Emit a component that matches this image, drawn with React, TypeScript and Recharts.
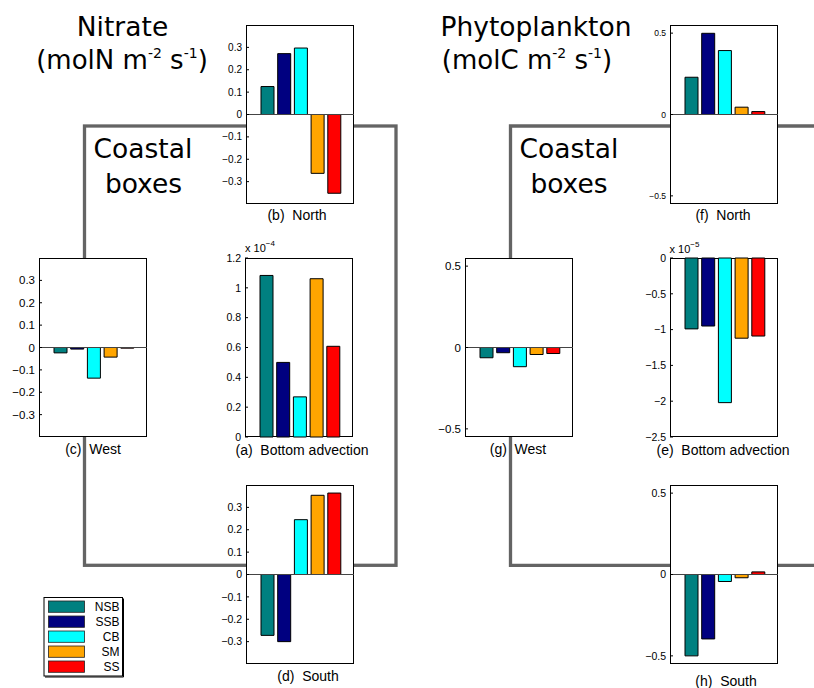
import React from 'react';
import { BarChart, Bar, XAxis, YAxis, Cell, ReferenceLine } from 'recharts';

// ---------- data ----------
const categories = ['NSB', 'SSB', 'CB', 'SM', 'SS'];
const colors = ['#008080', '#000080', '#00FFFF', '#FFA500', '#FF0000'];

const nitrateNorth = [0.125, 0.272, 0.297, -0.263, -0.352];
const nitrateWest = [-0.024, -0.007, -0.137, -0.043, -0.003];
const nitrateBottom = [1.083, 0.5, 0.269, 1.061, 0.608]; // x 10^-4
const nitrateSouth = [-0.272, -0.3, 0.245, 0.354, 0.364];

const phytoNorth = [0.229, 0.499, 0.393, 0.045, 0.018];
const phytoWest = [-0.063, -0.032, -0.118, -0.043, -0.037];
const phytoBottom = [-0.99, -0.95, -2.02, -1.12, -1.09]; // x 10^-5
const phytoSouth = [-0.5, -0.396, -0.043, -0.02, 0.016];

const nitrateTicks = [-0.3, -0.2, -0.1, 0, 0.1, 0.2, 0.3];
const nitrateBottomTicks = [0, 0.2, 0.4, 0.6, 0.8, 1, 1.2];
const phytoTicks = [-0.5, 0, 0.5];
const phytoBottomTicks = [-2.5, -2, -1.5, -1, -0.5, 0];

// ---------- helpers ----------
const fmt = (v: number) => (v < 0 ? '\u2212' + String(Math.abs(v)) : String(v));
const SANS = 'Liberation Sans, Arial, Helvetica, sans-serif';
const DEJAVU = 'DejaVu Sans, Verdana, sans-serif';

type PanelProps = {
  x0: number;
  y0: number;
  data: number[];
  domain: [number, number];
  ticks: number[];
  fontSize: number;
  baseline: boolean;
};

const W = 108;
const H = 179;
const LW = 50;
const RW = 10;
const PAD = 10;

function Panel({ x0, y0, data, domain, ticks, fontSize, baseline }: PanelProps) {
  const rows = data.map((v, i) => ({ name: categories[i], value: v }));
  return (
    <>
      <div
        style={{
          position: 'absolute',
          left: x0,
          top: y0,
          width: W,
          height: H,
          background: '#fff',
          border: '1px solid #000',
          boxSizing: 'border-box',
        }}
      />
      <div style={{ position: 'absolute', left: x0 - LW, top: y0 - PAD }}>
        <BarChart
          width={W + LW + RW}
          height={H + 2 * PAD}
          data={rows}
          margin={{ top: PAD, bottom: PAD, left: 0, right: 0 }}
          barSize={13}
        >
          <XAxis dataKey="name" hide padding={{ left: 13, right: 11.5 }} />
          <YAxis
            yAxisId="l"
            type="number"
            width={LW}
            domain={domain}
            ticks={ticks}
            interval={0}
            axisLine={false}
            tickLine={{ stroke: '#000' }}
            tickSize={-3}
            tickMargin={7}
            tick={{ fontSize, fill: '#000', fontFamily: SANS }}
            tickFormatter={fmt}
          />
          <YAxis
            yAxisId="r"
            orientation="right"
            type="number"
            width={RW}
            domain={domain}
            ticks={ticks}
            interval={0}
            axisLine={false}
            tickLine={{ stroke: '#000' }}
            tickSize={-3}
            tickFormatter={() => ''}
          />
          {baseline && <ReferenceLine yAxisId="l" y={0} stroke="#444" strokeWidth={1} />}
          <Bar yAxisId="l" dataKey="value" isAnimationActive={false} stroke="#000" strokeWidth={1}>
            {rows.map((r, i) => (
              <Cell key={r.name} fill={colors[i]} />
            ))}
          </Bar>
        </BarChart>
      </div>
    </>
  );
}

function UnitTitle({ x, y, species }: { x: number; y: number; species: string }) {
  return (
    <text x={x} y={y} textAnchor="middle" fontFamily={DEJAVU} fontSize={26} fill="#000">
      <tspan>{`(mol${species} m`}</tspan>
      <tspan fontSize={14} dy={-11}>-2</tspan>
      <tspan dy={11}> s</tspan>
      <tspan fontSize={14} dy={-11}>-1</tspan>
      <tspan dy={11}>)</tspan>
    </text>
  );
}

function Caption({ x, y, text }: { x: number; y: number; text: string }) {
  return (
    <text x={x} y={y} textAnchor="middle" fontFamily={SANS} fontSize={14} fill="#000" style={{ whiteSpace: 'pre' }}>
      {text}
    </text>
  );
}

function Exponent({ x, y, exp }: { x: number; y: number; exp: string }) {
  return (
    <text x={x} y={y} fontFamily={SANS} fontSize={11} fill="#000">
      <tspan>x 10</tspan>
      <tspan fontSize={8} dy={-6}>{exp}</tspan>
    </text>
  );
}

export default function App() {
  return (
    <div
      style={{
        position: 'absolute',
        left: 0,
        top: 0,
        width: 814,
        height: 688,
        background: '#fff',
        overflow: 'hidden',
      }}
    >
      <svg width={814} height={688} style={{ position: 'absolute', left: 0, top: 0 }}>
        {/* coastal box outlines */}
        <rect x={84.5} y={126} width={311.5} height={439.3} fill="none" stroke="#646464" strokeWidth={3.3} />
        <path d="M 830 126 H 510.5 V 565.3 H 830" fill="none" stroke="#646464" strokeWidth={3.3} />

        {/* titles */}
        <text x={122.5} y={36} textAnchor="middle" fontFamily={DEJAVU} fontSize={26.5} fill="#000">
          Nitrate
        </text>
        <UnitTitle x={122} y={69} species="N" />
        <text x={143} y={158} textAnchor="middle" fontFamily={DEJAVU} fontSize={26.5} fill="#000">
          Coastal
        </text>
        <text x={143.5} y={192.5} textAnchor="middle" fontFamily={DEJAVU} fontSize={26.5} fill="#000">
          boxes
        </text>

        <text x={536} y={35.5} textAnchor="middle" fontFamily={DEJAVU} fontSize={26.5} fill="#000">
          Phytoplankton
        </text>
        <UnitTitle x={527} y={68.5} species="C" />
        <text x={569} y={158} textAnchor="middle" fontFamily={DEJAVU} fontSize={26.5} fill="#000">
          Coastal
        </text>
        <text x={569} y={192.5} textAnchor="middle" fontFamily={DEJAVU} fontSize={26.5} fill="#000">
          boxes
        </text>

        {/* panel captions */}
        <Caption x={297} y={220} text="(b)  North" />
        <Caption x={93} y={453.5} text="(c)  West" />
        <Caption x={302} y={454.5} text="(a)  Bottom advection" />
        <Caption x={308} y={680.5} text="(d)  South" />
        <Caption x={723} y={220} text="(f)  North" />
        <Caption x={518} y={453.5} text="(g)  West" />
        <Caption x={723} y={454.5} text="(e)  Bottom advection" />
        <Caption x={726} y={685.5} text="(h)  South" />

        <Exponent x={245} y={252} exp={'\u22124'} />
        <Exponent x={669.5} y={252.5} exp={'\u22125'} />

        {/* legend */}
        <rect x={44} y={597.5} width={78.5} height={78.5} fill="#fff" stroke="#000" strokeWidth={1} />
        <path d="M 123.5 598.5 V 677 H 45" fill="none" stroke="#000" strokeWidth={1} />
        {categories.map((c, i) => (
          <g key={c}>
            <rect x={48.5} y={601 + i * 15} width={36} height={11.3} fill={colors[i]} stroke="#222" strokeWidth={0.8} />
            <text x={119.5} y={610.7 + i * 15} textAnchor="end" fontFamily={SANS} fontSize={12} fill="#000">
              {c}
            </text>
          </g>
        ))}
      </svg>

      <Panel x0={245.5} y0={24.5} data={nitrateNorth} domain={[-0.4, 0.4]} ticks={nitrateTicks} fontSize={10} baseline />
      <Panel x0={38.5} y0={257.5} data={nitrateWest} domain={[-0.4, 0.4]} ticks={nitrateTicks} fontSize={11.5} baseline />
      <Panel x0={245} y0={257.5} data={nitrateBottom} domain={[0, 1.2]} ticks={nitrateBottomTicks} fontSize={10.5} baseline={false} />
      <Panel x0={245.5} y0={484.5} data={nitrateSouth} domain={[-0.4, 0.4]} ticks={nitrateTicks} fontSize={10.5} baseline />

      <Panel x0={669.5} y0={24.5} data={phytoNorth} domain={[-0.55, 0.55]} ticks={phytoTicks} fontSize={8.5} baseline />
      <Panel x0={464.5} y0={257.5} data={phytoWest} domain={[-0.55, 0.55]} ticks={phytoTicks} fontSize={11.5} baseline />
      <Panel x0={669.5} y0={257.5} data={phytoBottom} domain={[-2.5, 0]} ticks={phytoBottomTicks} fontSize={10.5} baseline={false} />
      <Panel x0={669.5} y0={484.5} data={phytoSouth} domain={[-0.55, 0.55]} ticks={phytoTicks} fontSize={10.5} baseline />
    </div>
  );
}
